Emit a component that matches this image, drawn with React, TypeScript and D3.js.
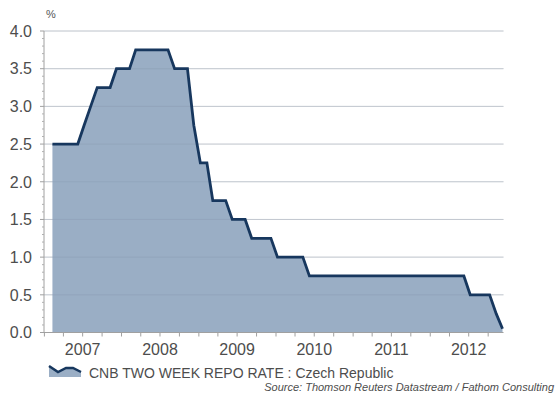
import React from "react";
import * as d3 from "d3";

// CNB two-week repo rate, end-of-month values, Jan 2007 .. Nov 2012
const firstMonth = new Date(2007, 1, 8);
const rateValues: number[] = [
  // 2007
  2.5, 2.5, 2.5, 2.5, 2.5, 2.75, 3.0, 3.25, 3.25, 3.25, 3.5, 3.5,
  // 2008
  3.5, 3.75, 3.75, 3.75, 3.75, 3.75, 3.75, 3.5, 3.5, 3.5, 2.75, 2.25,
  // 2009
  2.25, 1.75, 1.75, 1.75, 1.5, 1.5, 1.5, 1.25, 1.25, 1.25, 1.25, 1.0,
  // 2010
  1.0, 1.0, 1.0, 1.0, 0.75, 0.75, 0.75, 0.75, 0.75, 0.75, 0.75, 0.75,
  // 2011
  0.75, 0.75, 0.75, 0.75, 0.75, 0.75, 0.75, 0.75, 0.75, 0.75, 0.75, 0.75,
  // 2012
  0.75, 0.75, 0.75, 0.75, 0.75, 0.5, 0.5, 0.5, 0.5, 0.25, 0.05,
];
const yearLabels: number[] = [2007, 2008, 2009, 2010, 2011, 2012];
const yTicks: number[] = [0, 0.5, 1.0, 1.5, 2.0, 2.5, 3.0, 3.5, 4.0];
const seriesName = "CNB TWO WEEK REPO RATE : Czech Republic";
const sourceText = "Source: Thomson Reuters Datastream / Fathom Consulting";
const unitLabel = "%";

const W = 555;
const H = 395;
const FONT = "Arial, 'Liberation Sans', Helvetica, sans-serif";

export default function App() {
  const data = rateValues.map((v, i) => ({ date: d3.timeMonth.offset(firstMonth, i), value: v }));
  const x = d3
    .scaleTime()
    .domain([new Date(2007, 0, 1), new Date(2013, 0, 1)])
    .range([44.4, 507.6]);
  const y = d3.scaleLinear().domain([0, 4]).range([332.5, 31]);

  const left = 44;
  const right = x(data[data.length - 1].date) + 1;

  const area = d3
    .area<{ date: Date; value: number }>()
    .x((d) => x(d.date))
    .y0(y(0))
    .y1((d) => y(d.value));
  const line = d3
    .line<{ date: Date; value: number }>()
    .x((d) => x(d.date))
    .y((d) => y(d.value));

  const minorY = d3.range(0, 40).map((i) => i / 10).filter((v) => Math.abs(v * 2 - Math.round(v * 2)) > 1e-6);
  const qTicks = d3.timeMonth.every(3)!.range(new Date(2007, 0, 1), new Date(2012, 11, 31));

  // legend icon
  const lx = 49;
  const ly = 365;
  const iconPts: [number, number][] = [
    [lx, ly + 1],
    [lx + 9, ly + 7],
    [lx + 17, ly + 3],
    [lx + 24, ly + 3],
    [lx + 32, ly + 7],
  ];
  const iconLine = d3.line()(iconPts) as string;
  const iconArea = d3.area().y0(ly + 12)(iconPts) as string;

  return (
    <svg
      width={W}
      height={H}
      style={{ position: "absolute", left: 0, top: 0, background: "#fff" }}
      fontFamily={FONT}
    >
      {/* gridlines (under) */}
      {yTicks.filter((t) => t > 0).map((t) => (
        <line key={"g" + t} x1={left} x2={right} y1={y(t)} y2={y(t)} stroke="#e2e2e2" strokeWidth={1} />
      ))}
      <path d={area(data) as string} fill="#9aaec5" />
      {/* gridlines over fill */}
      {yTicks.filter((t) => t > 0).map((t) => (
        <line key={"go" + t} x1={left} x2={right} y1={y(t)} y2={y(t)} stroke="#8396ad" strokeOpacity={0.35} strokeWidth={1} />
      ))}
      <path d={line(data) as string} fill="none" stroke="#17375e" strokeWidth={2.8} strokeLinejoin="miter" />

      {/* y axis */}
      <line x1={left} x2={left} y1={y(4)} y2={y(0)} stroke="#a0a0a0" strokeWidth={1} />
      {yTicks.map((t) => (
        <line key={"yt" + t} x1={left - 4} x2={left} y1={y(t)} y2={y(t)} stroke="#a0a0a0" strokeWidth={1} />
      ))}
      {minorY.map((t) => (
        <line key={"ym" + t} x1={left - 2} x2={left} y1={y(t)} y2={y(t)} stroke="#b0b0b0" strokeWidth={1} />
      ))}
      {yTicks.map((t) => (
        <text key={"yl" + t} x={32} y={y(t)} dy="0.36em" textAnchor="end" fontSize={16} fill="#4d4d4d">
          {t.toFixed(1)}
        </text>
      ))}
      <text x={46} y={18} fontSize={11} fill="#555">{unitLabel}</text>

      {/* x axis */}
      <line x1={left} x2={right} y1={y(0)} y2={y(0)} stroke="#a0a0a0" strokeWidth={1} />
      {qTicks.map((d) => (
        <line key={"xt" + d.getTime()} x1={x(d)} x2={x(d)} y1={y(0)} y2={y(0) + 4} stroke="#a0a0a0" strokeWidth={1} />
      ))}
      {yearLabels.map((yr) => (
        <text key={"xl" + yr} x={x(new Date(yr, 6, 1))} y={355} textAnchor="middle" fontSize={16} fill="#4d4d4d">
          {yr}
        </text>
      ))}

      {/* legend */}
      <path d={iconArea} fill="#9aaec5" />
      <path d={iconLine} fill="none" stroke="#17375e" strokeWidth={2.5} />
      <text x={89} y={378} fontSize={14} fill="#4d4d4d">{seriesName}</text>

      {/* source */}
      <text x={554} y={391} textAnchor="end" fontSize={11} fontStyle="italic" fill="#4d4d4d">
        {sourceText}
      </text>
    </svg>
  );
}
